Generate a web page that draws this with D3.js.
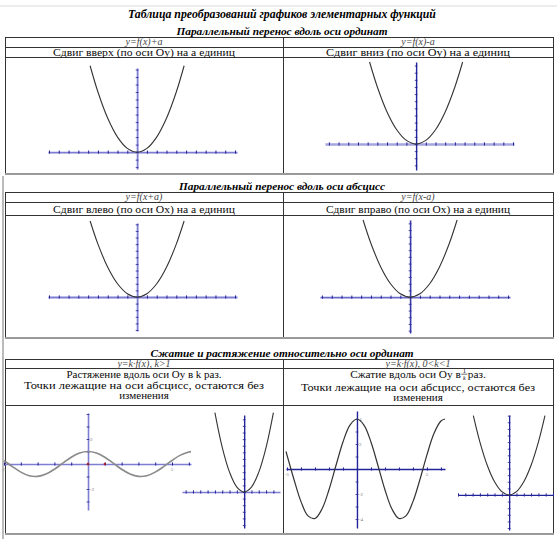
<!DOCTYPE html>
<html>
<head>
<meta charset="utf-8">
<script src="https://cdn.jsdelivr.net/npm/d3@7"></script>
<style>
  body { margin: 0; background: #fff; }
  svg text { font-family: "Liberation Serif", "DejaVu Serif", serif; }
</style>
</head>
<body>
<svg id="chart" width="557" height="539" font-family="Liberation Serif"></svg>
<script>
// texts
const titleText = "Таблица преобразований графиков элементарных функций"
const sectionTitles = [
    "Параллельный перенос вдоль оси ординат",
    "Параллельный перенос вдоль оси абсцисс",
    "Сжатие и растяжение относительно оси ординат"
]
const formulaLeft = ["y=f(x)+a", "y=f(x+a)", "y=k·f(x), k>1"]
const formulaRight = ["y=f(x)-a", "y=f(x-a)", "y=k·f(x), 0<k<1"]
const descLeft = ["Сдвиг вверх (по оси Oy) на a единиц", "Сдвиг влево (по оси Ox) на a единиц"]
const descRight = ["Сдвиг вниз (по оси Oy) на a единиц", "Сдвиг вправо (по оси Ox) на a единиц"]
const stretchLines = ["Растяжение вдоль оси  Oy в k раз.", "Точки лежащие на оси абсцисс, остаются без", "изменения"]
const compressLines = ["Сжатие вдоль оси  Oy в ", "1", "k", " раз.", "Точки лежащие на оси абсцисс, остаются без", "изменения"]

// curves
const parabolaX = [-4.8, -4, -3, -2, -1, 0, 1, 2, 3, 4, 4.8]
const parabolaY = [23, 16, 9, 4, 1, 0, 1, 4, 9, 16, 23]
const stretchParX = [-4, -3, -2, -1, 0, 1, 2, 3, 4]
const stretchParY = [24, 13.5, 6, 1.5, 0, 1.5, 6, 13.5, 24]
const compressParX = [-4.9, -4, -3, -2, -1, 0, 1, 2, 3, 4, 4.9]
const compressParY = [24, 16, 9, 4, 1, 0, 1, 4, 9, 16, 24]
const cosX = [-5, -4.5, -4, -3.5, -3, -2.5, -2, -1.5, -1, -0.5, 0, 0.5, 1, 1.5, 2, 2.5, 3, 3.5, 4, 4.5, 5, 5.5, 6, 6.13]
const cosY = [0.28, -0.21, -0.65, -0.94, -0.99, -0.80, -0.42, 0.07, 0.54, 0.88, 1, 0.88, 0.54, 0.07, -0.42, -0.80, -0.99, -0.94, -0.65, -0.21, 0.28, 0.71, 0.96, 0.99]
const cos4X = [-5.07, -4.5, -4, -3.5, -3, -2.5, -2, -1.5, -1, -0.5, 0, 0.5, 1, 1.5, 2, 2.5, 3, 3.5, 4, 4.5, 5, 5.5, 6, 6.29]
const cos4Y = [1.40, -0.84, -2.61, -3.75, -3.96, -3.20, -1.66, 0.28, 2.16, 3.51, 4, 3.51, 2.16, 0.28, -1.66, -3.20, -3.96, -3.75, -2.61, -0.84, 1.13, 2.84, 3.84, 4]
const markedX = [0, 1]

const zip = (a, b) => a.map((v, i) => [v, b[i]])

const svg = d3.select("#chart")
const COL = { l: 5, m: 283, r: 553 }
const sections = [
    { head: 31, top: 37, r1: 47, r2: 57, bottom: 173 },
    { head: 186, top: 192, r1: 202, r2: 215, bottom: 337 },
    { head: 353, top: 359, r1: 368, r2: 405, bottom: 533 }
]

const LIGHT = "#7d7dd2", DARK = "#23239a"
const SERIF = "Liberation Serif"
const INK = "#0a0a0a"

// page lines
svg.append("line").attr("x1", 0).attr("x2", 557).attr("y1", 6).attr("y2", 6)
    .attr("stroke", "#ededed").attr("stroke-width", 2)
svg.append("line").attr("x1", 3).attr("x2", 3).attr("y1", 176).attr("y2", 539)
    .attr("stroke", "#777").attr("stroke-width", 1)

svg.append("text")
    .attr("x", 282).attr("y", 18)
    .attr("text-anchor", "middle").attr("font-family", SERIF)
    .style("font-size", "11.8px").style("font-weight", "bold").style("font-style", "italic")
    .text(titleText)

sections.forEach((s, i) => {
    svg.append("text")
        .attr("x", 282).attr("y", s.head + 4)
        .attr("text-anchor", "middle").attr("font-family", SERIF)
        .style("font-size", "11.3px").style("font-weight", "bold").style("font-style", "italic")
        .text(sectionTitles[i])

    const g = svg.append("g").attr("stroke", "#333").attr("stroke-width", 1)
    ;[s.top, s.r1, s.r2].forEach(yy => {
        g.append("line").attr("x1", COL.l).attr("x2", COL.r).attr("y1", yy + 0.5).attr("y2", yy + 0.5)
    })
    ;[COL.l, COL.m, COL.r].forEach(xx => {
        g.append("line").attr("x1", xx + 0.5).attr("x2", xx + 0.5).attr("y1", s.top).attr("y2", s.bottom)
    })
    svg.append("line").attr("x1", COL.l).attr("x2", COL.r + 1).attr("y1", s.bottom + 1).attr("y2", s.bottom + 1)
        .attr("stroke", "#9a9a9a").attr("stroke-width", 2)

    const fy = s.top + 7.8
    ;[[formulaLeft[i], (COL.l + COL.m) / 2], [formulaRight[i], (COL.m + COL.r) / 2]].forEach(([t, cx]) => {
        svg.append("text").attr("x", cx).attr("y", fy).attr("text-anchor", "middle").attr("font-family", SERIF)
            .style("font-size", "10px").style("font-style", "italic").attr("fill", "#444")
            .text(t)
    })

    if (i < 2) {
        const dy = (s.r1 + s.r2) / 2 + 4.3
        svg.append("text").attr("x", (COL.l + COL.m) / 2).attr("y", dy).attr("text-anchor", "middle")
            .attr("font-family", SERIF).style("font-size", "11px").attr("fill", INK)
            .attr("textLength", 182).attr("lengthAdjust", "spacingAndGlyphs").text(descLeft[i])
        svg.append("text").attr("x", (COL.m + COL.r) / 2).attr("y", dy).attr("text-anchor", "middle")
            .attr("font-family", SERIF).style("font-size", "11px").attr("fill", INK)
            .attr("textLength", 184).attr("lengthAdjust", "spacingAndGlyphs").text(descRight[i])
    }
})

// section 3 descriptions
const cl = (COL.l + COL.m) / 2, cr = (COL.m + COL.r) / 2
const stretchWidth = [155, 240, null]
;[378, 388.7, 399.4].forEach((yy, j) => {
    const t = svg.append("text").attr("x", cl).attr("y", yy).attr("text-anchor", "middle").attr("font-family", SERIF)
        .style("font-size", "11px").attr("fill", INK).text(stretchLines[j])
    if (stretchWidth[j]) t.attr("textLength", stretchWidth[j]).attr("lengthAdjust", "spacingAndGlyphs")
})
{
    const y0 = 377.5
    const t1 = svg.append("text").attr("y", y0).attr("font-family", SERIF).style("font-size", "11.3px").attr("fill", INK).text(compressLines[0])
    const t2 = svg.append("text").attr("y", y0).attr("font-family", SERIF).style("font-size", "11.3px").attr("fill", INK).text(compressLines[3])
    const w1 = t1.node().getComputedTextLength(), w2 = t2.node().getComputedTextLength()
    const wf = 7
    const x0 = cr - (w1 + wf + w2) / 2
    t1.attr("x", x0)
    t2.attr("x", x0 + w1 + wf)
    const fx = x0 + w1 + wf / 2
    svg.append("text").attr("x", fx).attr("y", y0 - 4.5).attr("text-anchor", "middle").attr("font-family", SERIF)
        .style("font-size", "6.5px").attr("fill", INK).text(compressLines[1])
    svg.append("line").attr("x1", fx - 3).attr("x2", fx + 3).attr("y1", y0 - 3.3).attr("y2", y0 - 3.3)
        .attr("stroke", INK).attr("stroke-width", 0.6)
    svg.append("text").attr("x", fx).attr("y", y0 + 2.3).attr("text-anchor", "middle").attr("font-family", SERIF)
        .style("font-size", "6px").style("font-style", "italic").attr("fill", INK).text(compressLines[2])
    svg.append("text").attr("x", cr).attr("y", 390.6).attr("text-anchor", "middle").attr("font-family", SERIF)
        .style("font-size", "11px").attr("fill", INK)
        .attr("textLength", 234).attr("lengthAdjust", "spacingAndGlyphs")
        .text(compressLines[4])
    svg.append("text").attr("x", cr).attr("y", 401.4).attr("text-anchor", "middle").attr("font-family", SERIF)
        .style("font-size", "11px").attr("fill", INK).text(compressLines[5])
}

// graph panels
const panels = [
    { xr: [48, 237], xd: [-9.1, 10.2], yr: [169, 68], yd: [-4.5, 22.4], xs: 1, ys: 2,
      xc: LIGHT, yc: LIGHT, xw: 1.8, yw: 1.8, pts: zip(parabolaX, parabolaY), cc: "#333", cw: 1.1 },
    { xr: [325, 514], xd: [-9.4, 10.1], yr: [170, 62], yd: [-7.3, 23], xs: 1, ys: 2,
      xc: "#a4a4de", yc: DARK, xw: 2.6, yw: 1.4, pts: zip(parabolaX, parabolaY), cc: "#333", cw: 1.1 },
    { xr: [48, 237], xd: [-9.1, 10.2], yr: [331, 223], yd: [-10.3, 22.4], xs: 1, ys: 2,
      xc: LIGHT, yc: LIGHT, xw: 1.8, yw: 1.8, pts: zip(parabolaX, parabolaY), cc: "#333", cw: 1.1 },
    { xr: [320, 510], xd: [-9.2, 10.2], yr: [333, 220], yd: [-10.7, 23], xs: 1, ys: 2,
      xc: "#6a6ac8", yc: "#3a3aa8", xw: 1.6, yw: 1.6, pts: zip(parabolaX, parabolaY), cc: "#333", cw: 1.1 },
    { xr: [4, 191], xd: [-5, 6.13], yr: [510, 413], yd: [-3.68, 4.08], xs: 1, ys: 1,
      xc: LIGHT, yc: LIGHT, xw: 1.6, yw: 1.6, pts: zip(cosX, cosY), cc: "#8a8a8a", cw: 1.6,
      xl: [-5, 5], yl: [2, -2], marks: true },
    { xr: [182, 280], xd: [-8.5, 4.9], yr: [528, 415], yd: [-10.9, 23.3], xs: 1, ys: 2,
      xc: LIGHT, yc: DARK, xw: 1.6, yw: 1.4, pts: zip(stretchParX, stretchParY), cc: "#333", cw: 1.1 },
    { xr: [286, 445], xd: [-5.07, 6.29], yr: [528, 411], yd: [-4.72, 4.64], xs: 1, ys: 1,
      xc: DARK, yc: DARK, xw: 1.4, yw: 1.4, pts: zip(cos4X, cos4Y), cc: "#333", cw: 1.2,
      xl: [-5, 5], yl: [4, 2, -2, -4] },
    { xr: [458, 553], xd: [-7, 6], yr: [530, 415], yd: [-10.6, 24.2], xs: 1, ys: 2,
      xc: DARK, yc: DARK, xw: 1.3, yw: 1.3, pts: zip(compressParX, compressParY), cc: "#333", cw: 1.1 }
]

panels.forEach(p => {
    const x = d3.scaleLinear().domain(p.xd).range(p.xr)
    const y = d3.scaleLinear().domain(p.yd).range(p.yr)
    const g = svg.append("g")
    const xt = d3.range(Math.ceil(p.xd[0] / p.xs) * p.xs, p.xd[1] + 1e-6, p.xs)
    const yt = d3.range(Math.ceil(p.yd[0] / p.ys) * p.ys, p.yd[1] + 1e-6, p.ys)

    g.append("g")
        .attr("transform", `translate(0,${y(0)})`)
        .call(d3.axisBottom(x).tickValues(xt).tickSize(3).tickSizeOuter(0).tickFormat(""))
        .call(a => {
            a.select(".domain").attr("stroke", p.xc).attr("stroke-width", p.xw)
            a.selectAll(".tick line").attr("y1", -1.6).attr("y2", 1.6).attr("stroke", DARK).attr("stroke-width", 1)
        })
    g.append("g")
        .attr("transform", `translate(${x(0)},0)`)
        .call(d3.axisLeft(y).tickValues(yt).tickSize(3).tickSizeOuter(0).tickFormat(""))
        .call(a => {
            a.select(".domain").attr("stroke", p.yc).attr("stroke-width", p.yw)
            a.selectAll(".tick line").attr("x1", -1.4).attr("x2", 1.4).attr("stroke", DARK).attr("stroke-width", 0.8)
        })

    if (p.xl) {
        g.selectAll(".xl").data(p.xl).enter().append("text")
            .attr("x", d => x(d)).attr("y", y(0) + 7)
            .attr("text-anchor", "middle").attr("font-family", SERIF).style("font-size", "5px").attr("fill", "#777")
            .text(d => d)
        g.selectAll(".yl").data(p.yl).enter().append("text")
            .attr("x", x(0) + 2).attr("y", d => y(d) + 2)
            .attr("font-family", SERIF).style("font-size", "5px").attr("fill", "#777")
            .text(d => d)
    }
    if (p.marks) {
        g.selectAll(".mk").data(markedX).enter().append("circle")
            .attr("cx", d => x(d)).attr("cy", y(0)).attr("r", 1.2).attr("fill", "#b02020")
    }

    g.append("path")
        .datum(p.pts)
        .attr("fill", "none")
        .attr("stroke", p.cc)
        .attr("stroke-width", p.cw)
        .attr("d", d3.line().x(d => x(d[0])).y(d => y(d[1])).curve(d3.curveCatmullRom.alpha(0.5)))
})
</script>
</body>
</html>
